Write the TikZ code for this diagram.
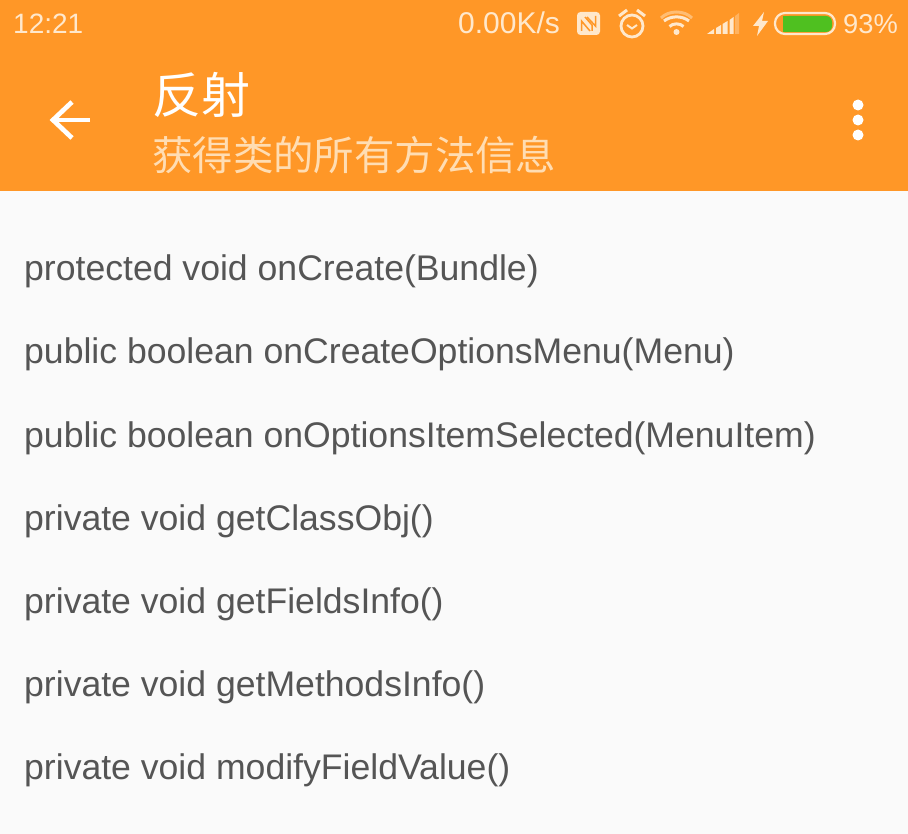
\documentclass[tikz,border=0pt]{standalone}
\usepackage{fontspec}
\setmainfont{Liberation Sans}
\newfontfamily\cjk{Noto Sans CJK SC}
\definecolor{barorange}{HTML}{FF9727}
\definecolor{statustxt}{HTML}{FFE8CC}
\definecolor{subtxt}{HTML}{FFDDB3}
\definecolor{rowtxt}{HTML}{555555}
\definecolor{pagebg}{HTML}{FAFAFA}
\definecolor{batgreen}{HTML}{4FC020}
\tikzset{
  rowlabel/.style={anchor=base west,inner sep=0pt,text=rowtxt,font=\fontsize{35.6}{38}\selectfont},
  statuslabel/.style={anchor=base west,inner sep=0pt,text=statustxt,font=\fontsize{28}{30}\selectfont},
  iconline/.style={draw=statustxt,line width=2.8pt,fill=none},
}
\begin{document}
\begin{tikzpicture}[x=1pt,y=-1pt]
\useasboundingbox (0,0) rectangle (908,834);
\fill[pagebg] (0,0) rectangle (908,834);
\fill[barorange] (0,0) rectangle (908,191);
% status bar
\node[statuslabel] (clock) at (13,34) {12:21};
\node[statuslabel,font=\fontsize{30}{32}\selectfont] (speed) at (458,34) {0.00K/s};
\node[statuslabel,font=\fontsize{27.3}{30}\selectfont] (pct) at (843,34) {93\%};
% NFC
\fill[statustxt,rounded corners=3.5pt] (577,12) rectangle (600,35);
\draw[barorange,line width=1.5pt] (581.5,31) -- (581.5,21) -- (590,31);
\draw[barorange,line width=1.5pt] (585,17) -- (592,25) -- (592,31);
\draw[barorange,line width=1.5pt] (587,17) -- (595.5,26) -- (595.5,16);
% alarm
\draw[iconline] (632,26) circle (11);
\draw[statustxt,line width=2pt] (627,25) -- (632,28.5) -- (637,25);
\draw[statustxt,line width=3pt] (619,16) -- (627,10);
\draw[statustxt,line width=3pt] (645,16) -- (637,10);
% wifi
\fill[statustxt] (676.5,32) circle (3);
\draw[statustxt,line width=3pt] (669.5,26.5) .. controls (673,23) and (680,23) .. (683.5,26.5);
\draw[statustxt,line width=3pt] (664,21) .. controls (671,15.5) and (682,15.5) .. (689,21);
\draw[subtxt,opacity=.55,line width=3pt] (661,18) .. controls (669,10) and (684,10) .. (692,18);
% signal
\fill[statustxt] (707,34) -- (714,29) -- (714,34) -- cycle;
\fill[statustxt] (716,28) -- (721,25) -- (721,34) -- (716,34) -- cycle;
\fill[statustxt] (722.5,24) -- (727.5,21) -- (727.5,34) -- (722.5,34) -- cycle;
\fill[statustxt] (729.5,20) -- (733.5,17) -- (733.5,34) -- (729.5,34) -- cycle;
\fill[statustxt,opacity=.35] (735,16) -- (739,13) -- (739,34) -- (735,34) -- cycle;
% bolt
\fill[statustxt] (764,12) -- (753,26) -- (759,26) -- (757,36) -- (768,21) -- (762,21) -- cycle;
% battery
\draw[statustxt,line width=2.2pt,rounded corners=10pt] (775,13) rectangle (835,34);
\fill[batgreen,rounded corners=6pt] (783,16) -- (783,32) -- (832,32) -- (832,16) -- cycle;
\fill[batgreen] (783,16) rectangle (790,32);
% app bar
\draw[white,line width=4.7pt] (90,120) -- (54,120);
\draw[white,line width=4.7pt] (72,102) -- (53,120) -- (72,138);
\node[anchor=base west,inner sep=0pt,text=white,font=\cjk\fontsize{49}{52}\selectfont] (title) at (152,114) {反射};
\node[anchor=base west,inner sep=0pt,text=subtxt,font=\cjk\fontsize{45}{48}\selectfont] (subtitle) at (152,171) {\fontsize{44.9}{48}\selectfont\scalebox{.9}{获得类的所有方法信息}};
\fill[white] (858,105) circle (5.5) (858,120) circle (5.5) (858,135) circle (5.5);
% rows
\node[rowlabel] (r1) at (24,281) {protected void onCreate(Bundle)};
\node[rowlabel] (r2) at (24,364) {public boolean onCreateOptionsMenu(Menu)};
\node[rowlabel] (r3) at (24,447) {public boolean onOptionsItemSelected(MenuItem)};
\node[rowlabel] (r4) at (24,530) {private void getClassObj()};
\node[rowlabel] (r5) at (24,613) {private void getFieldsInfo()};
\node[rowlabel] (r6) at (24,696) {private void getMethodsInfo()};
\node[rowlabel] (r7) at (24,779) {private void modifyFieldValue()};
\end{tikzpicture}
\end{document}
